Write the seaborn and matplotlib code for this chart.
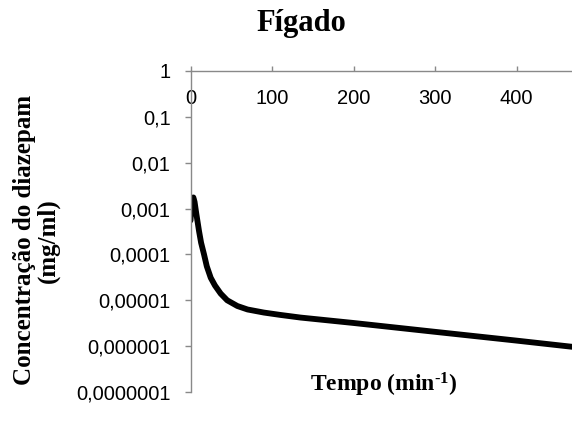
import matplotlib
matplotlib.use("Agg")
import matplotlib.pyplot as plt
import seaborn as sns
import pandas as pd

# ---- data ----
tempo = [0, 1, 2, 3.5, 5, 7, 10.5, 13, 16.6, 20, 24.8, 30, 37, 45, 57.5, 70, 90, 110, 135, 200, 298, 400, 470]
conc = [5.5e-4, 1.0e-3, 1.45e-3, 1.75e-3, 1.4e-3, 8.0e-4, 3.2e-4, 1.8e-4, 1.0e-4, 5.5e-5, 3.1e-5, 2.1e-5,
        1.4e-5, 1.0e-5, 7.5e-6, 6.3e-6, 5.4e-6, 4.8e-6, 4.2e-6, 3.2e-6, 2.07e-6, 1.32e-6, 9.6e-7]
x_ticks = [0, 100, 200, 300, 400]
y_ticks = [1e-7, 1e-6, 1e-5, 1e-4, 1e-3, 1e-2, 1e-1, 1]
y_tick_labels = ["0,0000001", "0,000001", "0,00001", "0,0001", "0,001", "0,01", "0,1", "1"]
title = "Fígado"
xlabel = r"Tempo (min$^{\text{-1}}$)"
ylabel = "Concentração do diazepam\n(mg/ml)"

sns.set_style("white")
plt.rcParams['font.family'] = ['Liberation Sans', 'DejaVu Sans']
plt.rcParams['text.color'] = 'black'
plt.rcParams['axes.labelcolor'] = 'black'
plt.rcParams['mathtext.fontset'] = 'custom'
plt.rcParams['mathtext.rm'] = 'Liberation Serif:bold'
plt.rcParams['mathtext.bf'] = 'Liberation Serif:bold'
plt.rcParams['mathtext.it'] = 'Liberation Serif:bold'

serif = ['Liberation Serif', 'DejaVu Serif']
gray = '#898989'

fig = plt.figure(figsize=(5.72, 4.30), dpi=100)
ax = fig.add_axes([190.5 / 572, 1 - 392 / 430, 1 - 190.5 / 572, (392 - 71) / 430])

df = pd.DataFrame({'Tempo': tempo, 'Conc': conc})
sns.lineplot(data=df, x='Tempo', y='Conc', color='black', linewidth=4.2, ax=ax)

ax.set_yscale('log')
ax.set_ylim(1e-7, 1)
ax.set_xlim(0, 468)
ax.set_yticks(y_ticks)
ax.set_yticklabels(y_tick_labels)
ax.minorticks_off()
ax.set_xticks(x_ticks)
ax.set_xticklabels([str(v) for v in x_ticks])

for s in ['right', 'bottom']:
    ax.spines[s].set_visible(False)
for s in ['left', 'top']:
    ax.spines[s].set_visible(True)
    ax.spines[s].set_color(gray)
    ax.spines[s].set_linewidth(1.0)

ax.tick_params(axis='y', left=True, direction='out', length=4, width=1, color=gray,
               pad=10.4, labelsize=14.5, labelcolor='black')
ax.tick_params(axis='x', top=True, bottom=False, labeltop=True, labelbottom=False,
               direction='out', length=3.5, width=1, color=gray, pad=-30.3,
               labelsize=14.5, labelcolor='black')

ax.set_xlabel(xlabel, fontsize=17, fontweight='bold', family=serif, va='center', color='black')
ax.xaxis.set_label_coords(0.506, 0.022)
ax.set_ylabel(ylabel, fontsize=18, fontweight='bold', family=serif, va='center',
              ha='center', linespacing=1.02, color='black')
ax.yaxis.set_label_coords(-0.405, 0.473)

fig.text(301 / 572, 1 - 31 / 430, title, fontsize=22, fontweight='bold', family=serif,
         ha='center', va='baseline', color='black')

fig.savefig('out.png', dpi=100)
